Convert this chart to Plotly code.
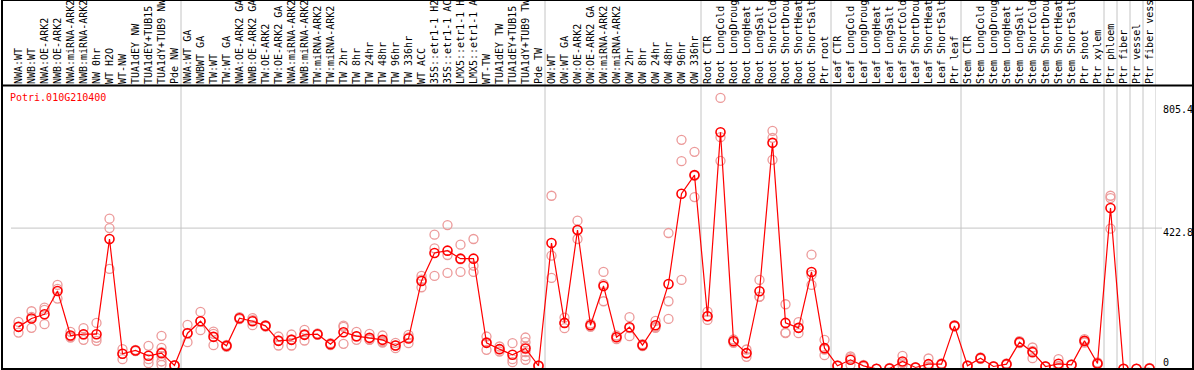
import plotly.graph_objects as go

labels = [
    "NWA:WT", "NWB:WT", "NWA:OE-ARK2", "NWB:OE-ARK2", "NWA:miRNA-ARK2", "NWB:miRNA-ARK2",
    "NW 0hr", "WT H2O", "WT-NW", "TUA1dEY NW", "TUA1dEY+TUB15 NW", "TUA1dY+TUB9 NW", "Pde NW",
    "NWA:WT GA", "NWBWT GA", "TW:WT", "TW:WT GA", "NWA:OE-ARK2 GA", "NWB:OE-ARK2 GA",
    "TW:OE-ARK2", "TW:OE-ARK2 GA", "NWA:miRNA-ARK2 GA", "NWB:miRNA-ARK2 GA", "TW:miRNA-ARK2",
    "TW:miRNA-ARK2 GA", "TW 2hr", "TW 8hr", "TW 24hr", "TW 48hr", "TW 96hr", "TW 336hr",
    "WT ACC", "35S::etr1-1 H2O", "35S::etr1-1 ACC", "LMX5::etr1-1 H2O", "LMX5::etr1-1 ACC",
    "WT-TW", "TUA1dEY TW", "TUA1dEY+TUB15 TW", "TUA1dY+TUB9 TW", "Pde TW",
    "OW:WT", "OW:WT GA", "OW:OE-ARK2", "OW:OE-ARK2 GA", "OW:miRNA-ARK2", "OW:miRNA-ARK2 GA",
    "OW 2hr", "OW 8hr", "OW 24hr", "OW 48hr", "OW 96hr", "OW 336hr",
    "Root CTR", "Root LongCold", "Root LongDrought", "Root LongHeat", "Root LongSalt",
    "Root ShortCold", "Root ShortDrought", "Root ShortHeat", "Root ShortSalt", "Ptr root",
    "Leaf CTR", "Leaf LongCold", "Leaf LongDrought", "Leaf LongHeat", "Leaf LongSalt",
    "Leaf ShortCold", "Leaf ShortDrought", "Leaf ShortHeat", "Leaf ShortSalt", "Ptr leaf",
    "Stem CTR", "Stem LongCold", "Stem LongDrought", "Stem LongHeat", "Stem LongSalt",
    "Stem ShortCold", "Stem ShortDrought", "Stem ShortHeat", "Stem ShortSalt", "Ptr shoot",
    "Ptr xylem", "Ptr phloem", "Ptr fiber", "Ptr vessel", "Ptr fiber vessel",
]

means = [
    126, 151, 164, 234, 100, 104, 104, 390, 45, 55, 39, 47, 10,
    107, 143, 96, 69, 152, 143, 129, 84, 87, 102, 104, 74, 110, 98, 93, 87, 70, 91,
    264, 348, 355, 331, 331, 78, 59, 42, 61, 9,
    378, 138, 417, 131, 249, 95, 125, 71, 131, 255, 526, 582,
    158, 711, 83, 47, 233, 679, 138, 123, 291, 62,
    9, 27, 9, 0, 1, 22, 4, 14, 14, 129,
    9, 32, 7, 14, 80, 50, 7, 15, 12, 84, 16,
    483, 0, 0, 1,
]

replicates = [
    [141, 126, 109], [173, 156, 123], [184, 177, 134], [252, 240, 211], [111, 97, 94],
    [122, 103, 87], [138, 93, 84], [451, 423, 300], [59, 45, 29], [57, 55, 53],
    [69, 29, 17], [99, 63, 50, 38, 22, 12], [11, 10, 9],
    [132, 108, 80], [171, 143, 116], [112, 105, 71], [72, 69, 66], [155, 152, 149],
    [152, 146, 131], [131, 129, 127], [97, 85, 70], [103, 88, 70], [117, 104, 85],
    [106, 104, 102], [77, 74, 71], [130, 126, 75], [111, 97, 87], [105, 88, 87],
    [100, 82, 79], [78, 70, 62], [102, 94, 77], [279, 268, 245], [403, 279, 362],
    [432, 288, 342], [373, 291, 329], [390, 291, 310], [97, 80, 57], [67, 59, 52],
    [77, 29, 20], [94, 80, 66, 50, 38, 27], [10, 9, 8],
    [520, 340, 273], [154, 138, 122], [445, 417, 390], [136, 131, 126], [291, 254, 203],
    [100, 95, 89], [155, 122, 98], [74, 71, 68], [144, 126, 123], [408, 203, 150],
    [688, 624, 267], [652, 580, 516],
    [172, 158, 147], [814, 696, 625], [88, 83, 78], [58, 47, 36], [267, 217, 216],
    [715, 694, 628], [194, 109, 107], [140, 123, 107], [343, 252, 282], [87, 58, 41],
    [10, 9, 8], [37, 32, 12], [12, 9, 6], [0, 0, 0], [3, 1, 0], [39, 17, 10], [5, 4, 3],
    [31, 7, 4], [16, 14, 12], [131, 129, 127],
    [10, 9, 8], [34, 32, 30], [8, 7, 6], [16, 14, 12], [83, 80, 77], [64, 54, 32],
    [8, 7, 6], [29, 9, 7], [13, 12, 11], [89, 84, 79], [19, 16, 13],
    [520, 513, 421], [0, 0, 0], [0, 0, 0], [3, 1, 0],
]

group_ends = [12, 40, 52, 62, 72, 83, 84, 85, 86, 87]  # last index of each group
gene_id = "Potri.010G210400"
y_labels = ["805.4", "422.8", "0"]
grid_value = 422.8

W, H = 1194, 370
ML, MR, MT, MB = 12, 38, 85, 1
PW, PH = W - ML - MR, H - MT - MB
FONT = "DejaVu Sans Mono"


def px_x(px):
    return (px - ML) / PW


def px_y(py):
    return (H - MB - py) / PH


xs = list(range(len(labels)))
rx, ry = [], []
for i, reps in enumerate(replicates):
    for v in reps:
        rx.append(i)
        ry.append(v)

fig = go.Figure()
fig.add_trace(go.Scatter(
    x=rx, y=ry, mode="markers", cliponaxis=False, showlegend=False,
    marker=dict(symbol="circle-open", size=9, color="#ec9a9a", line=dict(width=1.3, color="#ec9a9a")),
))
fig.add_trace(go.Scatter(
    x=xs, y=means, mode="lines+markers", cliponaxis=False, showlegend=False,
    line=dict(color="#ff0000", width=1.2),
    marker=dict(symbol="circle-open", size=9, color="#ff0000", line=dict(width=1.6, color="#ff0000")),
))

shapes = []
# group separators
sep_positions = [-0.6] + [e + 0.5 for e in group_ends]
for s in sep_positions:
    shapes.append(dict(type="line", xref="x", yref="paper", x0=s, x1=s, y0=0, y1=px_y(0),
                       line=dict(color="#c4c4c4", width=1), layer="below"))
# grid line at 422.8
shapes.append(dict(type="line", xref="paper", yref="y", x0=px_x(11), x1=px_x(1162),
                   y0=grid_value, y1=grid_value, line=dict(color="#c4c4c4", width=1), layer="below"))
# black frame
frame = dict(color="black", width=2)
shapes.append(dict(type="line", xref="paper", yref="paper", x0=px_x(2), x1=px_x(2), y0=px_y(0), y1=px_y(370), line=frame))
shapes.append(dict(type="line", xref="paper", yref="paper", x0=px_x(1193), x1=px_x(1193), y0=px_y(0), y1=px_y(370), line=frame))
shapes.append(dict(type="line", xref="paper", yref="paper", x0=px_x(1), x1=px_x(1194), y0=px_y(369), y1=px_y(369), line=frame))
shapes.append(dict(type="line", xref="paper", yref="paper", x0=px_x(1), x1=px_x(1194), y0=px_y(85.5), y1=px_y(85.5), line=frame))
shapes.append(dict(type="line", xref="paper", yref="paper", x0=px_x(1), x1=px_x(1194), y0=px_y(0.5), y1=px_y(0.5),
                   line=dict(color="black", width=1)))

annotations = [
    dict(text=gene_id, xref="paper", yref="paper", x=px_x(9), y=px_y(97.5), xanchor="left", yanchor="middle",
         showarrow=False, font=dict(family=FONT, size=10, color="#ff0000"), borderpad=0),
]
for txt, py in zip(y_labels, [109, 232.5, 362]):
    annotations.append(dict(text=txt, xref="paper", yref="paper", x=px_x(1162), y=px_y(py),
                            xanchor="left", yanchor="middle", showarrow=False, borderpad=0,
                            font=dict(family=FONT, size=10, color="black")))

fig.update_layout(
    width=W, height=H, margin=dict(l=ML, r=MR, t=MT, b=MB, pad=0),
    paper_bgcolor="white", plot_bgcolor="white",
    shapes=shapes, annotations=annotations, showlegend=False,
    xaxis=dict(range=[-0.5, len(labels) - 0.5], side="top", tickmode="array", tickvals=xs, ticktext=labels,
               tickangle=-90, tickfont=dict(family=FONT, size=10, color="black"), ticks="", ticklen=0,
               showgrid=False, zeroline=False, showline=False, automargin=False, fixedrange=True),
    yaxis=dict(range=[-0.6, 852.8], showgrid=False, zeroline=False, showticklabels=False, showline=False,
               automargin=False, fixedrange=True),
)

fig.write_html(
    "out.html",
    config={"displayModeBar": False, "staticPlot": True},
    post_script="document.body.style.margin='0px';document.body.style.overflow='hidden';",
)
